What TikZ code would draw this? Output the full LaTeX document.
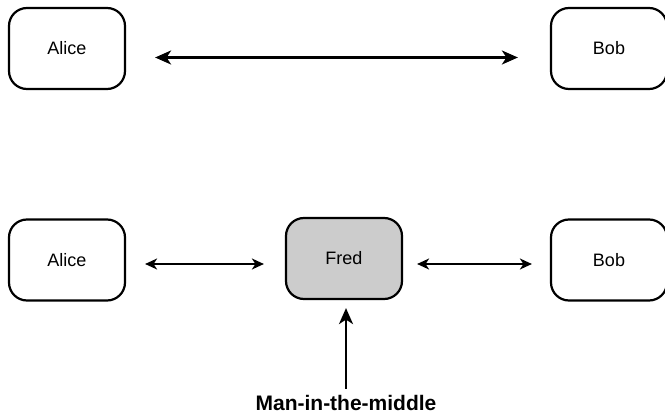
\documentclass[tikz,border=0pt]{standalone}
\usepackage{fontspec}
\setmainfont{Liberation Sans}
\usetikzlibrary{arrows.meta}
\begin{document}
\begin{tikzpicture}[x=1pt,y=-1pt,
  party/.style={draw=black,line width=2.2pt,rounded corners=18pt,
    minimum width=116pt,minimum height=81pt,inner sep=0pt,
    font=\fontsize{18}{20}\selectfont},
  attacker/.style={party,fill=black!20},
  bigarrow/.style={line width=2.2pt,{Stealth[length=16pt,width=14pt,inset=4.5pt]}-{Stealth[length=16pt,width=14pt,inset=4.5pt]}},
  smallarrow/.style={line width=1.7pt,{Stealth[length=12pt,width=11pt,inset=3.5pt]}-{Stealth[length=12pt,width=11pt,inset=3.5pt]}},
  uparrow/.style={line width=2.2pt,-{Stealth[length=16pt,width=14pt,inset=4.5pt]}}]
\useasboundingbox (0,0) rectangle (665,414);

% direct link
\node[party] (alice1) at (67,48.5) {Alice};
\node[party] (bob1) at (609,48.5) {Bob};
\draw[bigarrow,shorten <=29pt,shorten >=32pt]
  ([yshift=-9pt]alice1.east) -- ([yshift=-9pt]bob1.west);

% intercepted link
\node[party] (alice2) at (67,260) {Alice};
\node[attacker] (fred) at (344,258.5) {Fred};
\node[party] (bob2) at (609,260) {Bob};
\node[font=\bfseries\fontsize{21}{24}\selectfont,inner sep=1pt,anchor=base]
  (mitm) at (346,410) {Man-in-the-middle};

\draw[smallarrow,shorten <=19pt,shorten >=21pt]
  ([yshift=-4pt]alice2.east) -- ([yshift=-5.5pt]fred.west);
\draw[smallarrow,shorten <=14pt,shorten >=18pt]
  ([yshift=-5.5pt]fred.east) -- ([yshift=-4pt]bob2.west);
\draw[uparrow,shorten <=5pt,shorten >=8pt]
  (mitm.north -| 346,0) -- (fred.south -| 346,0);
\end{tikzpicture}
\end{document}
